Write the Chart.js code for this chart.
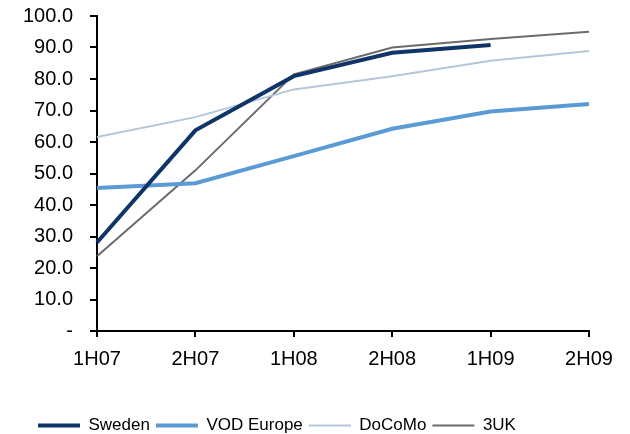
<!DOCTYPE html>
<html>
<head>
<meta charset="utf-8">
<script src="https://cdn.jsdelivr.net/npm/chart.js@4/dist/chart.umd.min.js"></script>
<style>
  html, body { margin: 0; padding: 0; background: #fff; }
  #wrap { width: 630px; height: 434px; }
</style>
</head>
<body>
<div id="wrap"><canvas id="chart" width="630" height="434"></canvas></div>
<script>
const periods = ['1H07', '2H07', '1H08', '2H08', '1H09', '2H09'];
const sweden = [28.1, 63.7, 80.9, 88.3, 90.8, null];
const vodEurope = [45.4, 46.9, 55.5, 64.2, 69.7, 72.1];
const docomo = [61.6, 67.9, 76.7, 80.9, 85.8, 88.9];
const threeUK = [23.7, 51.0, 81.5, 90.0, 92.7, 95.0];

const fontFamily = "'Liberation Sans', Arial, sans-serif";

function series(label, data, color, width) {
    return {
        label: label,
        data: data,
        borderColor: color,
        backgroundColor: color,
        borderWidth: width,
        pointRadius: 0,
        pointHoverRadius: 0,
        tension: 0,
        fill: false,
        clip: false,
        spanGaps: false
    };
}

// nudge the legend row right and down, like the original
const legendShift = {
    id: 'legendShift',
    afterLayout(chart) {
        chart.legend.left += 12;
        chart.legend.top += 10;
    }
};

new Chart(document.getElementById('chart').getContext('2d'), {
    type: 'line',
    data: {
        labels: periods,
        datasets: [
            series('Sweden', sweden, '#0f3468', 4),
            series('VOD Europe', vodEurope, '#5b9bd5', 4),
            series('DoCoMo', docomo, '#b3c7db', 2),
            series('3UK', threeUK, '#6b6b6b', 2)
        ]
    },
    plugins: [legendShift],
    options: {
        responsive: false,
        animation: false,
        layout: { padding: { left: 20, right: 41, top: 16, bottom: 0 } },
        plugins: {
            tooltip: { enabled: false },
            legend: {
                position: 'bottom',
                align: 'start',
                labels: {
                    usePointStyle: true,
                    pointStyle: 'line',
                    pointStyleWidth: 42,
                    padding: 6,
                    color: '#000',
                    font: { family: fontFamily, size: 17 }
                }
            }
        },
        scales: {
            x: {
                offset: false,
                grid: {
                    display: true,
                    drawOnChartArea: false,
                    drawTicks: true,
                    tickLength: 6,
                    color: '#000',
                    lineWidth: 2
                },
                border: { color: '#000', width: 2 },
                ticks: {
                    color: '#000',
                    padding: 10,
                    maxRotation: 0,
                    font: { family: fontFamily, size: 20 }
                },
                afterFit: function (scale) { scale.height = 70; }
            },
            y: {
                min: 0,
                max: 100,
                grid: {
                    display: true,
                    drawOnChartArea: false,
                    drawTicks: true,
                    tickLength: 7,
                    color: '#000',
                    lineWidth: 2
                },
                border: { color: '#000', width: 2 },
                ticks: {
                    stepSize: 10,
                    autoSkip: false,
                    color: '#000',
                    padding: 17,
                    font: { family: fontFamily, size: 20 },
                    callback: function (v) { return v === 0 ? '-' : v.toFixed(1); }
                },
                afterFit: function (scale) {
                    scale.width = 77;
                    scale.paddingTop = 0;
                }
            }
        }
    }
});
</script>
</body>
</html>
